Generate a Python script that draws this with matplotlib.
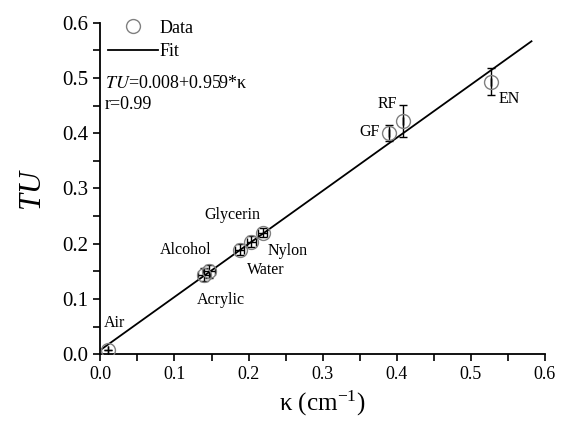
import matplotlib.pyplot as plt
import numpy as np

plt.rcParams['font.family'] = ['Liberation Serif', 'DejaVu Serif']
plt.rcParams['mathtext.fontset'] = 'stix'

# measured points
kappa = [0.01, 0.140, 0.147, 0.188, 0.204, 0.219, 0.390, 0.408, 0.528]
tu = [0.008, 0.144, 0.150, 0.189, 0.204, 0.220, 0.400, 0.422, 0.493]
tu_err = [0.0, 0.012, 0.012, 0.010, 0.010, 0.008, 0.015, 0.029, 0.024]
kappa_err = [0.0, 0.008, 0.008, 0.006, 0.006, 0.006, 0.0, 0.0, 0.0]

labels = ['Air', 'Alcohol', 'Acrylic', 'Water', 'Nylon', 'Glycerin', 'GF', 'RF', 'EN']
label_xy = [(0.004, 0.05), (0.08, 0.182), (0.13, 0.092), (0.198, 0.146),
            (0.226, 0.18), (0.141, 0.245), (0.35, 0.395), (0.374, 0.445), (0.537, 0.455)]

intercept, slope = 0.008, 0.959

fig = plt.figure(figsize=(5.64, 4.25), dpi=100)
ax = fig.add_axes([0.178, 0.166, 0.788, 0.781])

ax.errorbar(kappa, tu, yerr=tu_err, xerr=kappa_err, fmt='none', ecolor='black',
            elinewidth=1.0, capsize=3, capthick=1.0, zorder=2)
ax.plot(kappa, tu, 'o', ms=10, mfc='none', mec='#808080', mew=1.0, zorder=3, label='Data')

xf = np.linspace(0, 0.582, 50)
ax.plot(xf, intercept + slope * xf, color='black', lw=1.3, label='Fit', zorder=1)

for name, (lx, ly) in zip(labels, label_xy):
    ax.text(lx, ly, name, fontsize=11.5)

ax.legend(loc='upper left', frameon=False, fontsize=13, handlelength=2.8,
          handletextpad=0.05, borderaxespad=0.0, labelspacing=0.35,
          bbox_to_anchor=(0.0, 1.03))
ax.text(0.006, 0.482, r'$\mathit{TU}$=0.008+0.959*κ', fontsize=13)
ax.text(0.006, 0.443, 'r=0.99', fontsize=13)

ax.set_xlim(0, 0.6)
ax.set_ylim(0, 0.6)
ax.set_xticks(np.arange(0, 0.61, 0.1))
ax.set_yticks(np.arange(0, 0.61, 0.1))
ax.set_xticks(np.arange(0.05, 0.6, 0.1), minor=True)
ax.set_yticks(np.arange(0.05, 0.6, 0.1), minor=True)
ax.xaxis.set_major_formatter(plt.FormatStrFormatter('%.1f'))
ax.yaxis.set_major_formatter(plt.FormatStrFormatter('%.1f'))
ax.tick_params(axis='x', which='both', direction='out', labelsize=13, length=5, width=1.2)
ax.tick_params(axis='y', which='major', direction='out', labelsize=15, length=5, width=1.2)
ax.tick_params(axis='y', which='minor', direction='out', length=5, width=1.2)
ax.spines['top'].set_visible(False)
ax.spines['right'].set_visible(False)
ax.spines['left'].set_linewidth(1.3)
ax.spines['bottom'].set_linewidth(1.3)

ax.set_xlabel('κ (cm$^{\\mathregular{-1}}$)', fontsize=18, labelpad=4)
ax.set_ylabel('TU', fontsize=22, style='italic', labelpad=12)

fig.savefig('out.png', dpi=100)
